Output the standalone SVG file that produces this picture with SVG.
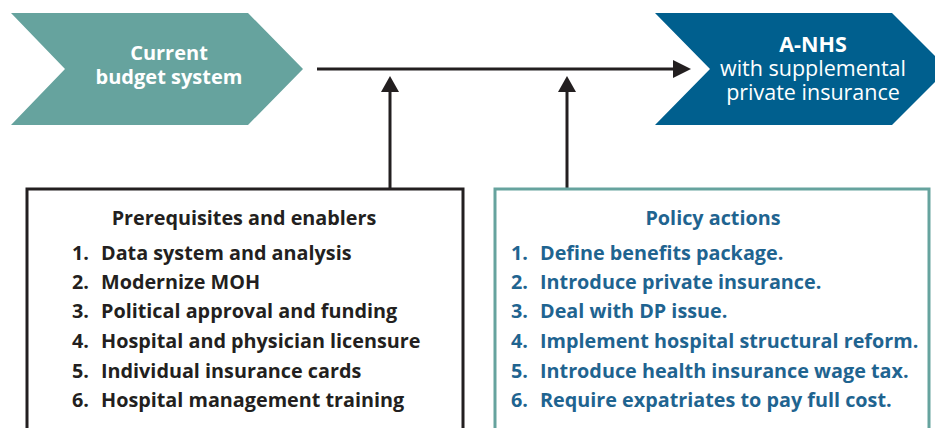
<svg xmlns="http://www.w3.org/2000/svg" width="935" height="428" viewBox="0 0 935 428">
<defs>
<style>
.t{font-family:"Open Sans","Noto Sans","Liberation Sans",sans-serif;}
.chev{font-size:20px;fill:#ffffff;text-anchor:middle;}
.b{font-weight:bold;}
.n{font-size:21.5px;}
.h{font-size:19.8px;font-weight:bold;text-anchor:middle;}
.li{font-size:19.8px;font-weight:bold;}
.blk{fill:#231F20;}
.blu{fill:#1F6490;}
.conn{stroke:#231F20;stroke-width:3;fill:none;}
</style>
</defs>
<rect width="935" height="428" fill="#ffffff"/>
<g id="current">
<polygon points="11,13 248,13 303,69 248,125 11,125 65,69" fill="#66A39E"/>
<text class="t chev b" x="169" y="60">Current</text>
<text class="t chev b" x="169" y="84">budget system</text>
</g>
<g id="anhs">
<polygon points="655,13 892,13 948,69 892,125 655,125 710,69" fill="#005F8E"/>
<text class="t chev b n" x="813" y="52">A-NHS</text>
<text class="t chev n" x="813" y="76">with supplemental</text>
<text class="t chev n" x="813" y="100">private insurance</text>
</g>
<g id="connectors">
<line class="conn" x1="317" y1="69" x2="673" y2="69"/>
<path d="M673,60 L691,69 L673,78 Z" fill="#231F20"/>
<line class="conn" x1="390" y1="188" x2="390" y2="92"/>
<path d="M381,92 L390,76 L399,92 Z" fill="#231F20"/>
<line class="conn" x1="567" y1="188" x2="567" y2="92"/>
<path d="M558,92 L567,76 L576,92 Z" fill="#231F20"/>
</g>
<g id="prereq">
<polyline points="27,440 27,189 463,189 463,440" fill="#ffffff" stroke="#231F20" stroke-width="3"/>
<text class="t h blk" x="244" y="225">Prerequisites and enablers</text>
<text class="t li blk" x="72" y="260">1.</text><text class="t li blk" x="101" y="260">Data system and analysis</text>
<text class="t li blk" x="72" y="289">2.</text><text class="t li blk" x="101" y="289">Modernize MOH</text>
<text class="t li blk" x="72" y="318">3.</text><text class="t li blk" x="101" y="318">Political approval and funding</text>
<text class="t li blk" x="72" y="348">4.</text><text class="t li blk" x="101" y="348">Hospital and physician licensure</text>
<text class="t li blk" x="72" y="378">5.</text><text class="t li blk" x="101" y="378">Individual insurance cards</text>
<text class="t li blk" x="72" y="407">6.</text><text class="t li blk" x="101" y="407">Hospital management training</text>
</g>
<g id="policy">
<polyline points="495,440 495,189 929,189 929,440" fill="#ffffff" stroke="#66A39E" stroke-width="3"/>
<text class="t h blu" x="713" y="225">Policy actions</text>
<text class="t li blu" x="511" y="260">1.</text><text class="t li blu" x="540" y="260">Define benefits package.</text>
<text class="t li blu" x="511" y="289">2.</text><text class="t li blu" x="540" y="289">Introduce private insurance.</text>
<text class="t li blu" x="511" y="318">3.</text><text class="t li blu" x="540" y="318">Deal with DP issue.</text>
<text class="t li blu" x="511" y="348">4.</text><text class="t li blu" x="540" y="348">Implement hospital structural reform.</text>
<text class="t li blu" x="511" y="378">5.</text><text class="t li blu" x="540" y="378">Introduce health insurance wage tax.</text>
<text class="t li blu" x="511" y="407">6.</text><text class="t li blu" x="540" y="407">Require expatriates to pay full cost.</text>
</g>
</svg>
